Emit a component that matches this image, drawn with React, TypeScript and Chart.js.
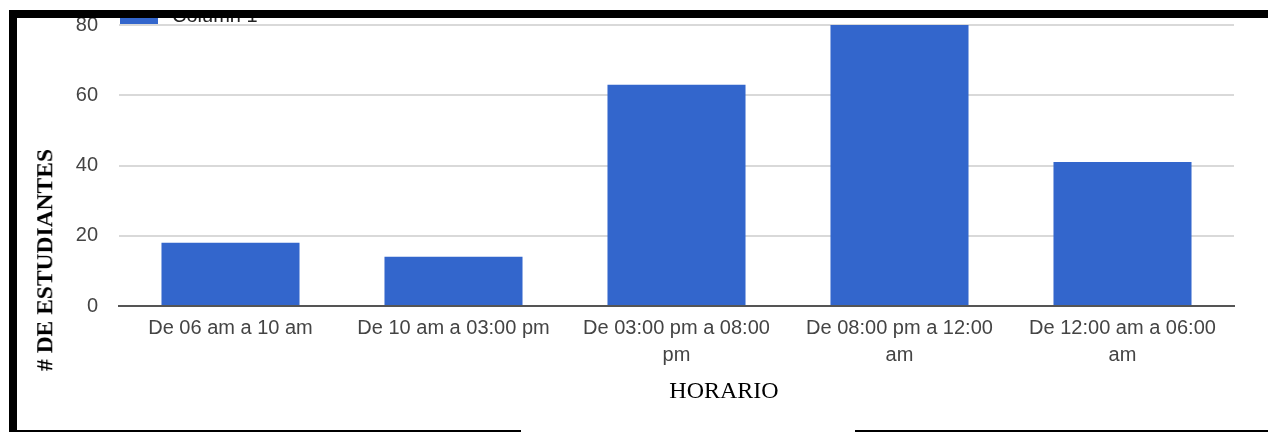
import React, { useEffect, useRef } from "react";
import { Chart, registerables } from "chart.js";

Chart.register(...registerables);

// ---- Data ----
const categories: string[][] = [
  ["De 06 am a 10 am"],
  ["De 10 am a 03:00 pm"],
  ["De 03:00 pm a 08:00", "pm"],
  ["De 08:00 pm a 12:00", "am"],
  ["De 12:00 am a 06:00", "am"],
];
const seriesName = "Column 1";
const students = [18, 14, 63, 80, 41];
const yTickValues = [0, 20, 40, 60, 80];
const yTitle = "# DE ESTUDIANTES";
const xTitle = "HORARIO";

const SANS = 'Arial, "Liberation Sans", sans-serif';
const SERIF = '"Times New Roman", "Liberation Serif", serif';

const legendPlugin = {
  id: "topLegend",
  afterDraw(chart: any) {
    const { ctx, chartArea } = chart;
    ctx.save();
    ctx.fillStyle = "#3366cc";
    ctx.fillRect(chartArea.left + 1, chartArea.top - 15, 38, 14);
    ctx.fillStyle = "#222222";
    ctx.font = "20px " + SANS;
    ctx.textBaseline = "alphabetic";
    ctx.textAlign = "left";
    ctx.fillText(seriesName, chartArea.left + 53, chartArea.top - 3);
    ctx.restore();
  },
};

export default function App() {
  const canvasRef = useRef<HTMLCanvasElement | null>(null);

  useEffect(() => {
    const canvas = canvasRef.current;
    if (!canvas) return;
    const chart = new Chart(canvas, {
      type: "bar",
      data: {
        labels: categories,
        datasets: [
          {
            label: seriesName,
            data: students,
            backgroundColor: "#3366cc",
            borderWidth: 0,
            barPercentage: 0.619,
            categoryPercentage: 1,
          },
        ],
      },
      options: {
        responsive: false,
        animation: false,
        devicePixelRatio: 1,
        layout: { padding: { left: 75, right: 34, top: 25, bottom: 0 } },
        plugins: {
          legend: { display: false },
          tooltip: { enabled: false },
          title: { display: false },
        },
        scales: {
          x: {
            grid: { display: false, drawTicks: false },
            border: { display: true, color: "#555555", width: 2 },
            ticks: {
              autoSkip: false,
              maxRotation: 0,
              minRotation: 0,
              padding: 9,
              color: "#444444",
              font: { size: 20, family: SANS, lineHeight: 1.35 },
            },
            afterFit(scale: any) {
              scale.height = 126;
            },
          },
          y: {
            min: 0,
            max: 80,
            afterBuildTicks(scale: any) {
              scale.ticks = yTickValues.map((v) => ({ value: v }));
            },
            grid: {
              color: "#d9d9d9",
              lineWidth: 2,
              drawTicks: true,
              tickLength: 21,
              tickColor: "rgba(0,0,0,0)",
            },
            border: { display: false },
            ticks: {
              padding: 0,
              color: "#444444",
              font: { size: 20, family: SANS },
            },
            afterFit(scale: any) {
              scale.width = 44;
            },
          },
        },
      },
      plugins: [legendPlugin],
    });
    return () => chart.destroy();
  }, []);

  return (
    <div
      style={{
        position: "absolute",
        left: 0,
        top: 0,
        width: 1268,
        height: 432,
        background: "#ffffff",
        overflow: "hidden",
      }}
    >
      <canvas
        ref={canvasRef}
        width={1268}
        height={432}
        style={{ position: "absolute", left: 0, top: 0, width: 1268, height: 432 }}
      />
      {/* white strip above the frame */}
      <div style={{ position: "absolute", left: 0, top: 0, width: 1268, height: 10, background: "#fff" }} />
      {/* frame: top, left, bottom segments */}
      <div style={{ position: "absolute", left: 9, top: 10, width: 1259, height: 8, background: "#000" }} />
      <div style={{ position: "absolute", left: 9, top: 10, width: 8, height: 422, background: "#000" }} />
      <div style={{ position: "absolute", left: 9, top: 430, width: 512, height: 2, background: "#000" }} />
      <div style={{ position: "absolute", left: 855, top: 430, width: 413, height: 2, background: "#000" }} />
      {/* axis titles */}
      <div
        style={{
          position: "absolute",
          left: 45,
          top: 260,
          transform: "translate(-50%, -50%) rotate(-90deg)",
          whiteSpace: "nowrap",
          fontFamily: SERIF,
          fontWeight: "bold",
          fontSize: 23.5,
          lineHeight: 1,
          color: "#000",
        }}
      >
        {yTitle}
      </div>
      <div
        style={{
          position: "absolute",
          left: 724,
          top: 390,
          transform: "translate(-50%, -50%)",
          whiteSpace: "nowrap",
          fontFamily: SERIF,
          fontSize: 24,
          lineHeight: 1,
          color: "#000",
        }}
      >
        {xTitle}
      </div>
    </div>
  );
}
